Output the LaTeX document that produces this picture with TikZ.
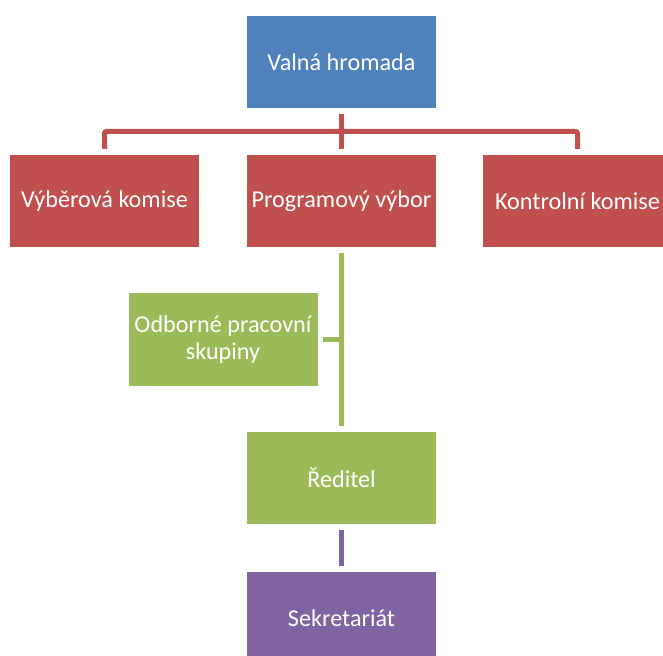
\documentclass[tikz,border=0pt]{standalone}
\usepackage{fontspec}
\setmainfont{Carlito}
\definecolor{cblue}{HTML}{4F81BD}
\definecolor{cred}{HTML}{C0504D}
\definecolor{cgreen}{HTML}{9BBB59}
\definecolor{cpurple}{HTML}{8064A2}
\begin{document}
\begin{tikzpicture}[x=1pt,y=-1pt,
  box/.style={rectangle,minimum width=189pt,minimum height=92pt,inner sep=0pt,
    text=white,align=center,font=\fontsize{24.2}{27}\selectfont},
  conn/.style={line width=5pt},
]
\useasboundingbox (0,0) rectangle (663,655);
\clip (0,0) rectangle (663,655);
\node[box,fill=cblue] (vh) at (341.5,62) {Valná hromada};
\node[box,fill=cred] (vk) at (104.5,201) {Výběrová komise};
\node[box,fill=cred] (pv) at (341.5,201) {Programový výbor};
\node[box,fill=cred] (kk) at (577.5,201) {Kontrolní komise};
\node[box,fill=cgreen,minimum height=93pt] (ops) at (223,339.5) {Odborné pracovní\\skupiny};
\node[box,fill=cgreen] (red) at (341.5,478) {Ředitel};
\node[box,fill=cpurple] (sek) at (341.5,618) {Sekretariát};
\coordinate (bar) at (341.5,131.5);
\draw[conn,cred] ([yshift=-6pt]vh.south) -- ([yshift=6pt]pv.north);
\draw[conn,cred,rounded corners=2pt] ([yshift=6pt]vk.north) |- (bar) -| ([yshift=6pt]kk.north);
\draw[conn,cgreen] ([yshift=-6pt]pv.south) -- ([yshift=6pt]red.north);
\draw[conn,cgreen] ([xshift=5pt]ops.east) -- (ops.east -| pv.south);
\draw[conn,cpurple] ([yshift=-6pt]red.south) -- ([yshift=6pt]sek.north);
\end{tikzpicture}
\end{document}
